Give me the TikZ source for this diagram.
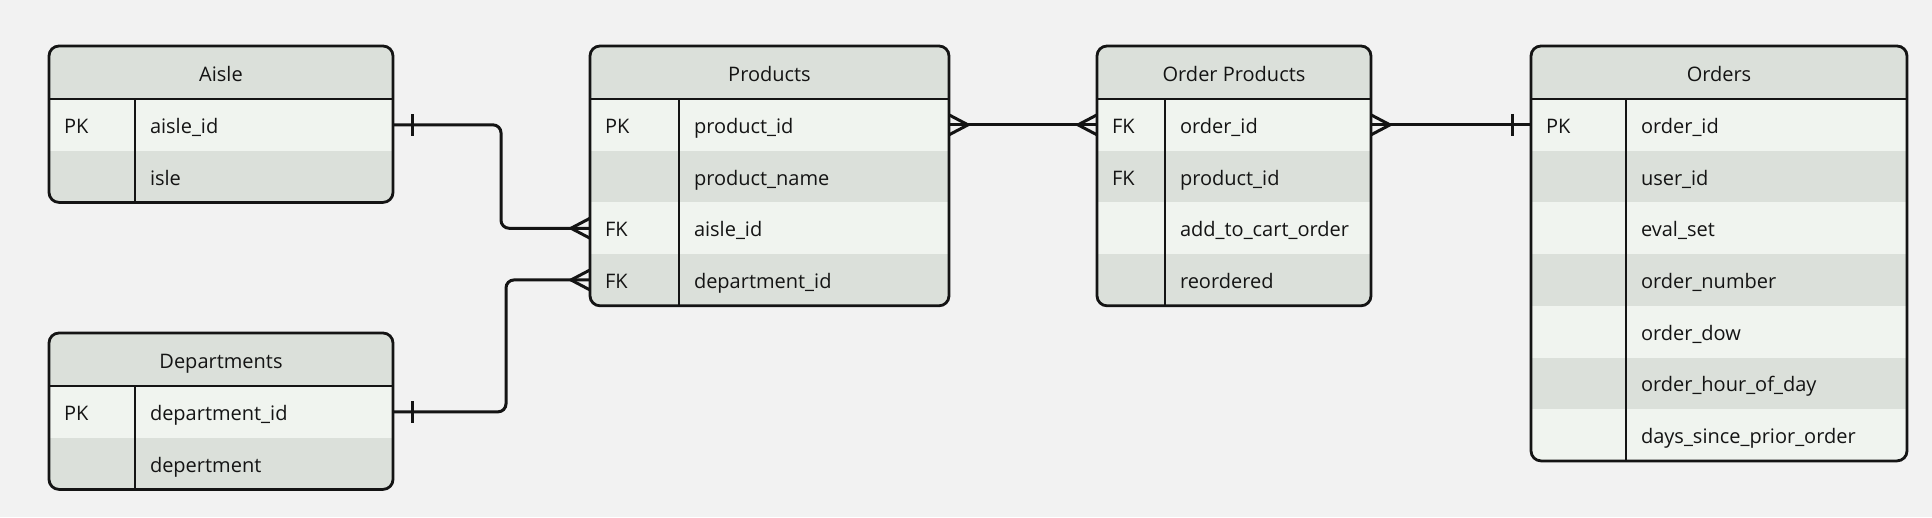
\documentclass[tikz,border=0pt]{standalone}
\usepackage{fontspec}
\setmainfont{Open Sans}
\usetikzlibrary{positioning}
\definecolor{pagebg}{HTML}{F2F2F2}
\definecolor{darkrow}{HTML}{DBE0DA}
\definecolor{lightrow}{HTML}{F0F4EF}
\definecolor{inkline}{HTML}{141414}
\tikzset{%
  % Specifications for style of the table cells:
           cell/.style = {rectangle, draw=none, outer sep=0pt, inner xsep=15pt,
                          inner ysep=0pt, minimum height=51.7pt, text height=17pt,
                          text depth=0pt, align=left, text=inkline,
                          font=\fontsize{20}{24}\selectfont},
           head/.style = {cell, minimum height=53pt, minimum width=#1,
                          fill=darkrow, align=center},
        keycell/.style = {cell, text width=#1},
      fieldcell/.style = {cell, text width=#1},
          light/.style = {fill=lightrow},
           dark/.style = {fill=darkrow},
  % lines
       tablebox/.style = {draw=inkline, line width=2.8pt, rounded corners=10pt},
           rule/.style = {draw=inkline, line width=2.8pt},
           conn/.style = {draw=inkline, line width=3pt, rounded corners=8pt},
        endmark/.style = {draw=inkline, line width=3pt},
  % crow's foot ends
              many/.pic = {\draw[endmark] (0,10) -- (-19,0) -- (0,-10);},
               one/.pic = {\draw[endmark] (-19,-11) -- (-19,11);},
}

\begin{document}
\begin{tikzpicture}[x=1pt, y=-1pt]
  \fill[pagebg] (0,0) rectangle (1932,517);
  \useasboundingbox (0,0) rectangle (1932,517);

  % Aisle
  \node (aisle) [head=344pt, anchor=north west] at (49,46) {Aisle};
  \node (aisleK1) [keycell=56pt, light, below right=0pt of aisle.south west] {PK};
  \node (aisleF1) [fieldcell=228pt, light, right=0pt of aisleK1] {aisle\_id};
  \node (aisleK2) [keycell=56pt, dark, below=0pt of aisleK1] {};
  \node (aisleF2) [fieldcell=228pt, dark, right=0pt of aisleK2] {isle};
  \fill[pagebg, even odd rule] (aisle.north west) rectangle (aisleF2.south east)
       [rounded corners=10pt] (aisle.north west) rectangle (aisleF2.south east);
  \draw[rule] (aisle.south west) -- (aisle.south east);
  \draw[rule] (aisleK1.north east) -- (aisleK2.south east);
  \draw[tablebox] (aisle.north west) rectangle (aisleF2.south east);

  % Departments
  \node (dept) [head=344pt, anchor=north west] at (49,333) {Departments};
  \node (deptK1) [keycell=56pt, light, below right=0pt of dept.south west] {PK};
  \node (deptF1) [fieldcell=228pt, light, right=0pt of deptK1] {department\_id};
  \node (deptK2) [keycell=56pt, dark, below=0pt of deptK1] {};
  \node (deptF2) [fieldcell=228pt, dark, right=0pt of deptK2] {depertment};
  \fill[pagebg, even odd rule] (dept.north west) rectangle (deptF2.south east)
       [rounded corners=10pt] (dept.north west) rectangle (deptF2.south east);
  \draw[rule] (dept.south west) -- (dept.south east);
  \draw[rule] (deptK1.north east) -- (deptK2.south east);
  \draw[tablebox] (dept.north west) rectangle (deptF2.south east);

  % Products
  \node (prod) [head=359pt, anchor=north west] at (590,46) {Products};
  \node (prodK1) [keycell=59pt, light, below right=0pt of prod.south west] {PK};
  \node (prodF1) [fieldcell=240pt, light, right=0pt of prodK1] {product\_id};
  \node (prodK2) [keycell=59pt, dark, below=0pt of prodK1] {};
  \node (prodF2) [fieldcell=240pt, dark, right=0pt of prodK2] {product\_name};
  \node (prodK3) [keycell=59pt, light, below=0pt of prodK2] {FK};
  \node (prodF3) [fieldcell=240pt, light, right=0pt of prodK3] {aisle\_id};
  \node (prodK4) [keycell=59pt, dark, below=0pt of prodK3] {FK};
  \node (prodF4) [fieldcell=240pt, dark, right=0pt of prodK4] {department\_id};
  \fill[pagebg, even odd rule] (prod.north west) rectangle (prodF4.south east)
       [rounded corners=10pt] (prod.north west) rectangle (prodF4.south east);
  \draw[rule] (prod.south west) -- (prod.south east);
  \draw[rule] (prodK1.north east) -- (prodK4.south east);
  \draw[tablebox] (prod.north west) rectangle (prodF4.south east);

  % Order Products
  \node (op) [head=274pt, anchor=north west] at (1097,46) {Order Products};
  \node (opK1) [keycell=38pt, light, below right=0pt of op.south west] {FK};
  \node (opF1) [fieldcell=176pt, light, right=0pt of opK1] {order\_id};
  \node (opK2) [keycell=38pt, dark, below=0pt of opK1] {FK};
  \node (opF2) [fieldcell=176pt, dark, right=0pt of opK2] {product\_id};
  \node (opK3) [keycell=38pt, light, below=0pt of opK2] {};
  \node (opF3) [fieldcell=176pt, light, right=0pt of opK3] {add\_to\_cart\_order};
  \node (opK4) [keycell=38pt, dark, below=0pt of opK3] {};
  \node (opF4) [fieldcell=176pt, dark, right=0pt of opK4] {reordered};
  \fill[pagebg, even odd rule] (op.north west) rectangle (opF4.south east)
       [rounded corners=10pt] (op.north west) rectangle (opF4.south east);
  \draw[rule] (op.south west) -- (op.south east);
  \draw[rule] (opK1.north east) -- (opK4.south east);
  \draw[tablebox] (op.north west) rectangle (opF4.south east);

  % Orders
  \node (ord) [head=376pt, anchor=north west] at (1531,46) {Orders};
  \node (ordK1) [keycell=65pt, light, below right=0pt of ord.south west] {PK};
  \node (ordF1) [fieldcell=251pt, light, right=0pt of ordK1] {order\_id};
  \node (ordK2) [keycell=65pt, dark, below=0pt of ordK1] {};
  \node (ordF2) [fieldcell=251pt, dark, right=0pt of ordK2] {user\_id};
  \node (ordK3) [keycell=65pt, light, below=0pt of ordK2] {};
  \node (ordF3) [fieldcell=251pt, light, right=0pt of ordK3] {eval\_set};
  \node (ordK4) [keycell=65pt, dark, below=0pt of ordK3] {};
  \node (ordF4) [fieldcell=251pt, dark, right=0pt of ordK4] {order\_number};
  \node (ordK5) [keycell=65pt, light, below=0pt of ordK4] {};
  \node (ordF5) [fieldcell=251pt, light, right=0pt of ordK5] {order\_dow};
  \node (ordK6) [keycell=65pt, dark, below=0pt of ordK5] {};
  \node (ordF6) [fieldcell=251pt, dark, right=0pt of ordK6] {order\_hour\_of\_day};
  \node (ordK7) [keycell=65pt, light, below=0pt of ordK6] {};
  \node (ordF7) [fieldcell=251pt, light, right=0pt of ordK7] {days\_since\_prior\_order};
  \fill[pagebg, even odd rule] (ord.north west) rectangle (ordF7.south east)
       [rounded corners=10pt] (ord.north west) rectangle (ordF7.south east);
  \draw[rule] (ord.south west) -- (ord.south east);
  \draw[rule] (ordK1.north east) -- (ordK7.south east);
  \draw[tablebox] (ord.north west) rectangle (ordF7.south east);

  % Relations between the tables
  \draw[conn] (aisleF1.east) -- ++(108,0) |- (prodK3.west);
  \draw[conn] (deptF1.east) -- ++(113,0) |- (prodK4.west);
  \draw[conn] (prodF1.east) -- (opK1.west);
  \draw[conn] (opF1.east) -- (ordK1.west);
  \pic[rotate=180] at (aisleF1.east) {one};
  \pic[rotate=180] at (deptF1.east) {one};
  \pic at (prodK3.west) {many};
  \pic at (prodK4.west) {many};
  \pic[rotate=180] at (prodF1.east) {many};
  \pic at (opK1.west) {many};
  \pic[rotate=180] at (opF1.east) {many};
  \pic at (ordK1.west) {one};
\end{tikzpicture}
\end{document}
